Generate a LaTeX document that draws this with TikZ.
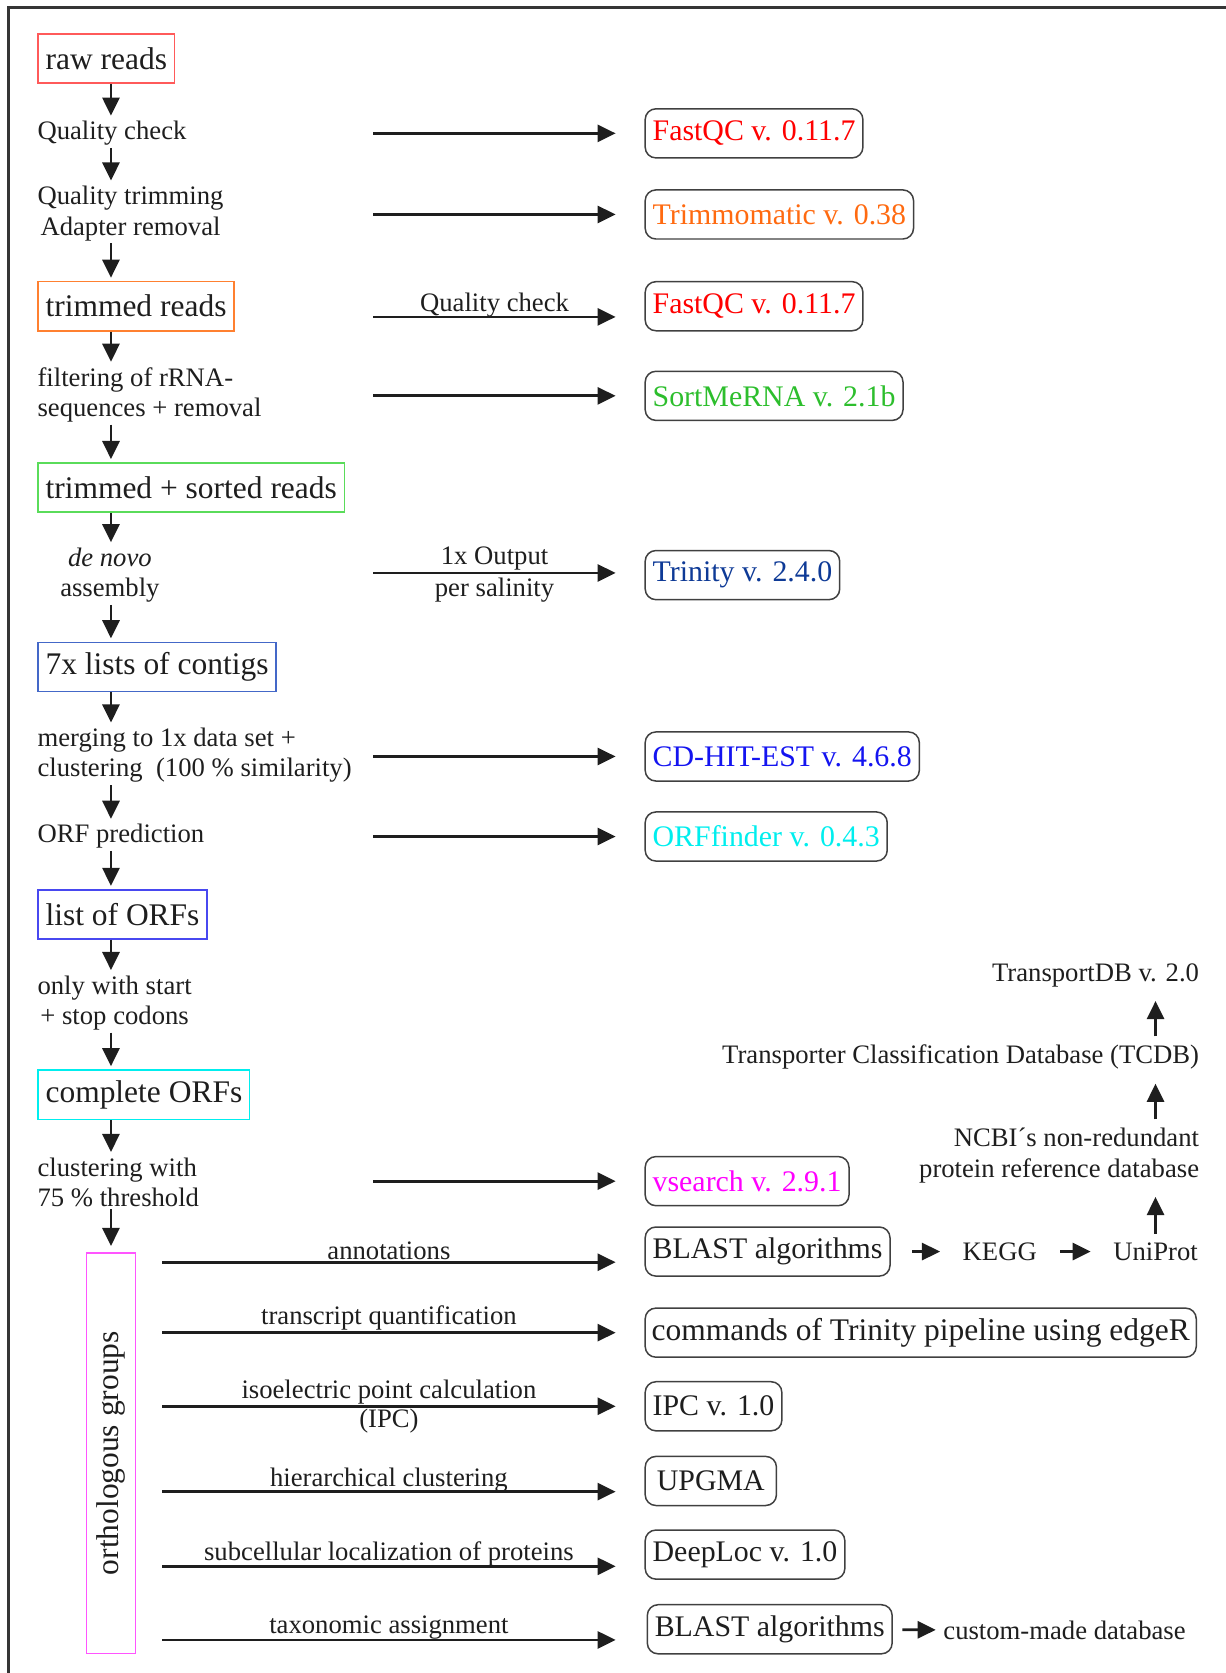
\documentclass[tikz,border=0pt]{standalone}
\usepackage{fontspec}
\setmainfont{Liberation Serif}
\usetikzlibrary{arrows.meta,calc}
\definecolor{ink}{HTML}{1E1E1E}
\definecolor{rawred}{HTML}{FF5A5A}
\definecolor{qcred}{HTML}{FF0000}
\definecolor{trimorange}{HTML}{FF6A10}
\definecolor{readorange}{HTML}{FF8030}
\definecolor{sortgreen}{HTML}{2DBE2D}
\definecolor{readgreen}{HTML}{5ADC5A}
\definecolor{trinblue}{HTML}{0E3A96}
\definecolor{contigblue}{HTML}{4468C8}
\definecolor{cdblue}{HTML}{1414F0}
\definecolor{orfblue}{HTML}{4848F0}
\definecolor{orfcyan}{HTML}{00EEEE}
\definecolor{vsmag}{HTML}{FF00FF}
\definecolor{grpmag}{HTML}{FF55FF}
\tikzset{
  arr/.style={draw=ink, line width=2.6pt, -{Triangle[length=17pt,width=16pt]}},
  hop/.style={arr, shorten <=20pt, shorten >=19pt},
  rise/.style={arr, shorten <=6pt, shorten >=11pt},
  inp/.style={draw, line width=1.4pt, text=ink, font=\fontsize{29.5}{34}\selectfont,
    minimum height=46pt, inner xsep=7pt, anchor=west},
  tool/.style={draw=ink!85, line width=1.4pt, rounded corners=10pt,
    font=\fontsize{28}{32}\selectfont, minimum height=46pt, inner xsep=7pt, anchor=west},
  lab/.style={text=ink, font=\fontsize{25}{28.5}\selectfont, inner sep=2pt},
  elab/.style={text=ink, font=\fontsize{25}{28.5}\selectfont, inner sep=1pt},
  frame/.style={draw=ink!90, line width=2pt},
}

\begin{document}
\begin{tikzpicture}[x=1pt,y=-1pt]
  \useasboundingbox (0,0) rectangle (1149,1568);
  \draw[frame] (8,1568) |- (1149,7);

  % left column: pipeline steps
  \node[inp, draw=rawred] (raw) at (35,55) {raw reads};
  \node[lab, anchor=west] (qc) at (33,125) {Quality check};
  \node[lab, anchor=west, align=center] (trim) at (33,200) {Quality trimming\\Adapter removal};
  \node[inp, draw=readorange] (trimmed) at (35,287) {trimmed reads};
  \node[lab, anchor=west, align=left] (filt) at (33,370) {filtering of rRNA-\\sequences + removal};
  \node[inp, draw=readgreen] (sorted) at (35,457) {trimmed + sorted reads};
  \node[lab, align=center] (denovo) at (103,539) {\textit{de novo}\\assembly};
  \node[inp, draw=contigblue] (contigs) at (35,625) {7x lists of contigs};
  \node[lab, anchor=west, align=left] (merge) at (33,708) {merging to 1x data set +\\clustering~ (100 \% similarity)};
  \node[lab, anchor=west] (orfpred) at (33,784) {ORF prediction};
  \node[inp, draw=orfblue] (orfs) at (35,857) {list of ORFs};
  \node[lab, anchor=west, align=center] (startstop) at (33,940) {only with start\\+ stop codons};
  \node[inp, draw=orfcyan] (complete) at (35,1026) {complete ORFs};
  \node[lab, anchor=west, align=left] (clust) at (33,1108) {clustering with\\75 \% threshold};
  \node[inp, draw=grpmag, anchor=center, rotate=90, minimum width=375pt] (ortho) at (104,1362) {orthologous groups};

  \coordinate (spine) at (104,0);
  \foreach \a/\b in {raw/qc, qc/trim, trim/trimmed, trimmed/filt, filt/sorted, sorted/denovo,
                     denovo/contigs, contigs/merge, merge/orfpred, orfpred/orfs, orfs/startstop,
                     startstop/complete, complete/clust}
    \draw[arr, shorten >=3pt] (\a.south -| spine) -- (\b.north -| spine);
  \draw[arr, shorten >=6pt] (clust.south -| spine) -- (ortho.east);

  % right column: tools
  \node[tool, text=qcred] (fastqc1) at (604,125) {FastQC v. 0.11.7};
  \node[tool, text=trimorange] (trimmo) at (604,201) {Trimmomatic v. 0.38};
  \node[tool, text=qcred] (fastqc2) at (604,287) {FastQC v. 0.11.7};
  \node[tool, text=sortgreen] (sortme) at (604,371) {SortMeRNA v. 2.1b};
  \node[tool, text=trinblue] (trinity) at (604,539) {Trinity v. 2.4.0};
  \node[tool, text=cdblue] (cdhit) at (604,709) {CD-HIT-EST v. 4.6.8};
  \node[tool, text=orfcyan] (orffinder) at (604,784) {ORFfinder v. 0.4.3};
  \node[tool, text=vsmag] (vsearch) at (604,1107) {vsearch v. 2.9.1};
  \node[tool, text=ink] (blast1) at (604,1173) {BLAST algorithms};
  \node[tool, text=ink, font=\fontsize{29.5}{34}\selectfont, inner xsep=6pt] (edger) at (604,1249) {commands of Trinity pipeline using edgeR};
  \node[tool, text=ink] (ipc) at (604,1318) {IPC v. 1.0};
  \node[tool, text=ink, minimum width=123pt] (upgma) at (604,1388) {UPGMA};
  \node[tool, text=ink] (deeploc) at (604,1457) {DeepLoc v. 1.0};
  \node[tool, text=ink] (blast2) at (606,1527) {BLAST algorithms};

  \coordinate (src) at (350,0);
  \coordinate (grp) at (152,0);
  \coordinate (dst) at (577,0);
  \draw[arr] (src |- fastqc1) -- (dst |- fastqc1);
  \draw[arr] (src |- trimmo) -- (dst |- trimmo);
  \draw[arr] ($(src |- fastqc2)+(0,10)$) -- node[elab, above=-3pt] {Quality check} ($(dst |- fastqc2)+(0,10)$);
  \draw[arr] (src |- sortme) -- (dst |- sortme);
  \draw[arr] ($(src |- trinity)+(0,-2)$) -- node[elab, above] {1x Output} node[elab, below=2pt] {per salinity} ($(dst |- trinity)+(0,-2)$);
  \draw[arr] (src |- cdhit) -- (dst |- cdhit);
  \draw[arr] (src |- orffinder) -- (dst |- orffinder);
  \draw[arr] (src |- vsearch) -- (dst |- vsearch);

  % orthologous groups fan out
  \draw[arr] ($(grp |- blast1)+(0,10)$) -- node[elab, above] {annotations} ($(dst |- blast1)+(0,10)$);
  \draw[arr] (grp |- edger) -- node[elab, above] {transcript quantification} (dst |- edger);
  \draw[arr] (grp |- ipc) -- node[elab, above] {isoelectric point calculation} node[elab, below] {(IPC)} (dst |- ipc);
  \draw[arr] ($(grp |- upgma)+(0,10)$) -- node[elab, above=-3pt] {hierarchical clustering} ($(dst |- upgma)+(0,10)$);
  \draw[arr] ($(grp |- deeploc)+(0,11)$) -- node[elab, above=-2pt] {subcellular localization of proteins} ($(dst |- deeploc)+(0,11)$);
  \draw[arr] ($(grp |- blast2)+(0,10)$) -- node[elab, above=-2pt] {taxonomic assignment} ($(dst |- blast2)+(0,10)$);

  % databases
  \node[lab] (kegg) at (937,1173) {KEGG};
  \node[lab] (uniprot) at (1083,1173) {UniProt};
  \node[lab, anchor=east, align=right] (ncbi) at (1126,1083) {NCBI´s non-redundant\\protein reference database};
  \node[lab, anchor=east] (tcdb) at (1126,991) {Transporter Classification Database (TCDB)};
  \node[lab, anchor=east] (tdb) at (1126,914) {TransportDB v. 2.0};
  \node[lab, anchor=west] (custom) at (882,1528) {custom-made database};

  \draw[hop] (blast1) -- (kegg);
  \draw[hop] (kegg) -- (uniprot);
  \draw[arr, shorten <=9pt, shorten >=5pt] (blast2) -- (custom);
  \draw[rise] (uniprot.north) -- (ncbi.south -| uniprot.north);
  \draw[rise] (ncbi.north -| uniprot.north) -- (tcdb.south -| uniprot.north);
  \draw[rise] (tcdb.north -| uniprot.north) -- (tdb.south -| uniprot.north);
\end{tikzpicture}
\end{document}
